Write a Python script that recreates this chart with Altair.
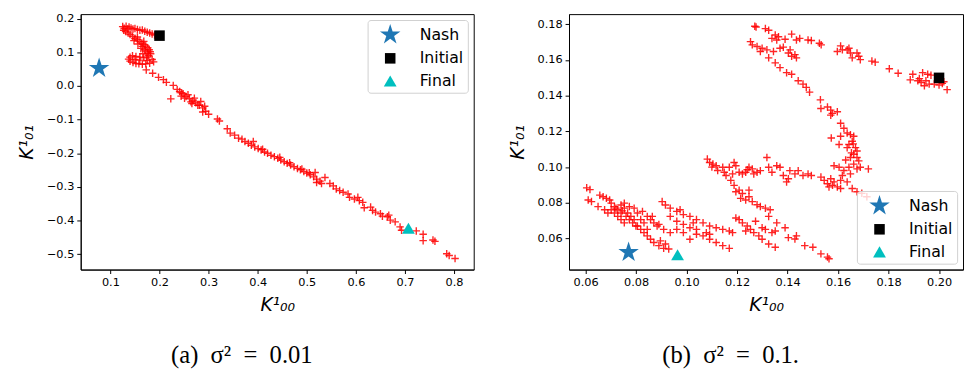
import altair as alt
import pandas as pd

# ---------------- data ----------------
labels = ["Nash", "Initial", "Final"]

# panel (a): sigma^2 = 0.01
traj_a = [
    (0.125, 0.177), (0.128, 0.172), (0.132, 0.178), (0.135, 0.170), (0.138, 0.176),
    (0.142, 0.173), (0.146, 0.170), (0.150, 0.171), (0.155, 0.168), (0.160, 0.166),
    (0.165, 0.167), (0.170, 0.163), (0.175, 0.160), (0.180, 0.158), (0.185, 0.155),
    (0.190, 0.152), (0.127, 0.166), (0.131, 0.162), (0.136, 0.158),
    (0.140, 0.153), (0.145, 0.148), (0.150, 0.142), (0.155, 0.138), (0.160, 0.133),
    (0.164, 0.128), (0.168, 0.124), (0.172, 0.119), (0.176, 0.114), (0.179, 0.108),
    (0.181, 0.102), (0.182, 0.096), (0.178, 0.090), (0.174, 0.086), (0.168, 0.084),
    (0.160, 0.086), (0.152, 0.088), (0.145, 0.090), (0.140, 0.086), (0.137, 0.080),
    (0.140, 0.074), (0.146, 0.070), (0.152, 0.067), (0.158, 0.066), (0.165, 0.065),
    (0.172, 0.066), (0.180, 0.068), (0.188, 0.072), (0.185, 0.079), (0.176, 0.098),
    (0.170, 0.108), (0.165, 0.118), (0.172, 0.104), (0.166, 0.096), (0.160, 0.077),
    (0.150, 0.079), (0.175, 0.076), (0.168, 0.133), (0.155, 0.146), (0.162, 0.112),
    (0.156, 0.125), (0.148, 0.135),
    (0.173, 0.048), (0.186, 0.038), (0.198, 0.026), (0.208, 0.019), (0.214, 0.011),
    (0.228, 0.002), (0.223, -0.038),
    (0.236, -0.010), (0.241, -0.016), (0.248, -0.023), (0.254, -0.031), (0.261, -0.038),
    (0.268, -0.044), (0.274, -0.050), (0.281, -0.057), (0.288, -0.065), (0.294, -0.075),
    (0.300, -0.084), (0.251, -0.036), (0.264, -0.047), (0.278, -0.057), (0.288, -0.077),
    (0.244, -0.030), (0.258, -0.026), (0.271, -0.036), (0.284, -0.046), (0.292, -0.060),
    (0.245, -0.020), (0.266, -0.052),
    (0.318, -0.098), (0.322, -0.104), (0.338, -0.127), (0.344, -0.140),
    (0.353, -0.146), (0.361, -0.155), (0.368, -0.158), (0.374, -0.165), (0.381, -0.170),
    (0.387, -0.176), (0.391, -0.165), (0.394, -0.181), (0.401, -0.186), (0.407, -0.190),
    (0.414, -0.196), (0.420, -0.200), (0.427, -0.206), (0.434, -0.210), (0.441, -0.215),
    (0.447, -0.220), (0.454, -0.225), (0.460, -0.230), (0.467, -0.235), (0.474, -0.240),
    (0.481, -0.245), (0.487, -0.249), (0.494, -0.254), (0.500, -0.259), (0.507, -0.264),
    (0.514, -0.270), (0.517, -0.257), (0.520, -0.277), (0.527, -0.283), (0.530, -0.290),
    (0.537, -0.272), (0.520, -0.287), (0.410, -0.188), (0.445, -0.212), (0.465, -0.228),
    (0.490, -0.247), (0.505, -0.258),
    (0.547, -0.290), (0.554, -0.297), (0.560, -0.306), (0.567, -0.311), (0.574, -0.316),
    (0.584, -0.321), (0.587, -0.331), (0.597, -0.336), (0.607, -0.341), (0.604, -0.331),
    (0.614, -0.346), (0.617, -0.362), (0.630, -0.360), (0.634, -0.370), (0.640, -0.375),
    (0.650, -0.380), (0.654, -0.387), (0.664, -0.389), (0.670, -0.399), (0.667, -0.384),
    (0.680, -0.404), (0.690, -0.419), (0.693, -0.429), (0.723, -0.431), (0.737, -0.441),
    (0.737, -0.460), (0.757, -0.458), (0.761, -0.462), (0.785, -0.499), (0.790, -0.504),
    (0.802, -0.513),
]
marker_a_x = [0.077, 0.200, 0.707]
marker_a_y = [0.053, 0.150, -0.423]

# panel (b): sigma^2 = 0.1
traj_b = [
    (0.1803, 0.1551), (0.1838, 0.1526), (0.1896, 0.1520), (0.1886, 0.1489), (0.1922, 0.1496),
    (0.1929, 0.1474), (0.1942, 0.1456), (0.1935, 0.1529), (0.1955, 0.1520), (0.1968, 0.1515),
    (0.1981, 0.1465), (0.2000, 0.1460), (0.2013, 0.1469), (0.2032, 0.1434), (0.2019, 0.1478),
    (0.1961, 0.1465), (0.1916, 0.1484), (0.1948, 0.1484),
    (0.1747, 0.1588), (0.1734, 0.1594),
    (0.1682, 0.1621), (0.1675, 0.1639), (0.1688, 0.1602), (0.1649, 0.1639), (0.1636, 0.1657),
    (0.1610, 0.1679), (0.1643, 0.1666), (0.1597, 0.1648), (0.1617, 0.1657), (0.1656, 0.1612),
    (0.1533, 0.1685), (0.1526, 0.1694), (0.1494, 0.1709), (0.1481, 0.1712), (0.1448, 0.1721),
    (0.1435, 0.1712), (0.1416, 0.1745), (0.1390, 0.1716), (0.1364, 0.1730), (0.1351, 0.1740),
    (0.1325, 0.1767), (0.1312, 0.1776), (0.1338, 0.1721), (0.1357, 0.1712), (0.1270, 0.1789),
    (0.1275, 0.1785),
    (0.1253, 0.1703), (0.1260, 0.1685), (0.1279, 0.1676), (0.1299, 0.1666), (0.1318, 0.1657),
    (0.1344, 0.1648), (0.1370, 0.1666), (0.1383, 0.1672), (0.1292, 0.1648),
    (0.1403, 0.1639), (0.1416, 0.1621), (0.1429, 0.1630), (0.1410, 0.1657), (0.1435, 0.1612),
    (0.1325, 0.1612), (0.1351, 0.1584), (0.1370, 0.1557), (0.1396, 0.1529), (0.1416, 0.1520),
    (0.1442, 0.1484), (0.1461, 0.1465), (0.1474, 0.1447), (0.1487, 0.1420), (0.1530, 0.1377),
    (0.1532, 0.1328), (0.1558, 0.1337), (0.1571, 0.1319), (0.1577, 0.1301), (0.1597, 0.1310),
    (0.1571, 0.1291),
    (0.1610, 0.1246), (0.1623, 0.1218), (0.1636, 0.1191), (0.1649, 0.1182), (0.1662, 0.1173),
    (0.1656, 0.1145), (0.1643, 0.1127), (0.1669, 0.1109), (0.1675, 0.1090), (0.1662, 0.1072),
    (0.1649, 0.1054), (0.1675, 0.1054), (0.1682, 0.1035), (0.1662, 0.1017), (0.1643, 0.0999),
    (0.1675, 0.0990), (0.1688, 0.0999), (0.1720, 0.0990), (0.1573, 0.1163), (0.1610, 0.1173),
    (0.1604, 0.1127), (0.1636, 0.1109), (0.1584, 0.1008), (0.1604, 0.0999), (0.1623, 0.0981),
    (0.1649, 0.0962), (0.1617, 0.0953), (0.1610, 0.0926), (0.1584, 0.0917), (0.1597, 0.0889),
    (0.1578, 0.0898), (0.1610, 0.0880), (0.1636, 0.0917), (0.1656, 0.0880), (0.1675, 0.0862),
    (0.1694, 0.0853), (0.1714, 0.0834), (0.1653, 0.1080), (0.1630, 0.1040), (0.1660, 0.1130),
    (0.1532, 0.0944), (0.1545, 0.0926), (0.1558, 0.0907), (0.1571, 0.0935), (0.1564, 0.0889),
    (0.1082, 0.1045), (0.1091, 0.1026), (0.1104, 0.1017), (0.1117, 0.1008), (0.1143, 0.0999),
    (0.1149, 0.0971), (0.1169, 0.0999), (0.1188, 0.1026), (0.1195, 0.1008), (0.1208, 0.0971),
    (0.1221, 0.0962), (0.1234, 0.0971), (0.1247, 0.0999), (0.1260, 0.0990), (0.1279, 0.0971),
    (0.1292, 0.0980), (0.1318, 0.1054), (0.1325, 0.0999), (0.1338, 0.0971), (0.1357, 0.1008),
    (0.1370, 0.0999), (0.1383, 0.0953), (0.1396, 0.0917), (0.1409, 0.0980), (0.1429, 0.0962),
    (0.1442, 0.0980), (0.1461, 0.0953), (0.1481, 0.0962), (0.1494, 0.0953), (0.1123, 0.0981),
    (0.1182, 0.0962), (0.1266, 0.0962), (0.1403, 0.0935), (0.1100, 0.1000), (0.1240, 0.0985),
    (0.1156, 0.0953), (0.1175, 0.0926), (0.1188, 0.0898), (0.1195, 0.0862), (0.1208, 0.0871),
    (0.1221, 0.0852), (0.1214, 0.0825), (0.1234, 0.0816), (0.1247, 0.0834), (0.1260, 0.0807),
    (0.1279, 0.0789), (0.1292, 0.0779), (0.1312, 0.0770), (0.1331, 0.0761), (0.1247, 0.0871),
    (0.1325, 0.0724), (0.1357, 0.0688), (0.1390, 0.0660), (0.1403, 0.0605), (0.1435, 0.0615),
    (0.1468, 0.0560), (0.1500, 0.0551), (0.1532, 0.0514), (0.1558, 0.0496), (0.1564, 0.0487),
    (0.1429, 0.0597),
    (0.0604, 0.0884), (0.0617, 0.0874), (0.0610, 0.0816), (0.0623, 0.0807), (0.0656, 0.0843),
    (0.0669, 0.0834), (0.0682, 0.0825), (0.0695, 0.0816), (0.0649, 0.0779), (0.0675, 0.0761),
    (0.0688, 0.0743), (0.0701, 0.0798), (0.0714, 0.0779), (0.0727, 0.0761), (0.0740, 0.0743),
    (0.0753, 0.0798), (0.0760, 0.0724), (0.0773, 0.0706), (0.0786, 0.0688), (0.0799, 0.0670),
    (0.0818, 0.0651), (0.0831, 0.0633), (0.0844, 0.0615), (0.0857, 0.0596), (0.0870, 0.0578),
    (0.0890, 0.0560), (0.0909, 0.0545), (0.0929, 0.0541), (0.0896, 0.0587), (0.0916, 0.0569),
    (0.0701, 0.0761), (0.0714, 0.0743), (0.0727, 0.0724), (0.0740, 0.0706), (0.0753, 0.0688),
    (0.0766, 0.0743), (0.0779, 0.0724), (0.0792, 0.0706), (0.0805, 0.0743), (0.0818, 0.0706),
    (0.0831, 0.0688), (0.0844, 0.0724), (0.0857, 0.0706), (0.0870, 0.0688), (0.0883, 0.0670),
    (0.0825, 0.0752), (0.0864, 0.0724), (0.0805, 0.0670), (0.0844, 0.0651), (0.0753, 0.0770),
    (0.0740, 0.0788), (0.0773, 0.0779), (0.0792, 0.0770), (0.0720, 0.0770), (0.0745, 0.0755),
    (0.0890, 0.0679), (0.0909, 0.0651), (0.0935, 0.0633), (0.0961, 0.0651), (0.0987, 0.0633),
    (0.1013, 0.0596), (0.1039, 0.0624), (0.1065, 0.0615), (0.1091, 0.0596), (0.1117, 0.0578),
    (0.1143, 0.0560), (0.1169, 0.0545),
    (0.0903, 0.0807), (0.0916, 0.0788), (0.0935, 0.0770), (0.0961, 0.0752), (0.0987, 0.0734),
    (0.1013, 0.0724), (0.1039, 0.0706), (0.1065, 0.0688), (0.1091, 0.0670), (0.1117, 0.0660),
    (0.1143, 0.0651), (0.1169, 0.0642), (0.0935, 0.0724), (0.0961, 0.0697), (0.0987, 0.0679),
    (0.1013, 0.0660), (0.1039, 0.0651), (0.0974, 0.0761), (0.1026, 0.0688), (0.1078, 0.0633),
    (0.1091, 0.0624),
    (0.1195, 0.0715), (0.1208, 0.0706), (0.1221, 0.0688), (0.1240, 0.0670), (0.1253, 0.0651),
    (0.1266, 0.0633), (0.1286, 0.0615), (0.1299, 0.0596), (0.1312, 0.0651), (0.1338, 0.0633),
    (0.1351, 0.0642), (0.1325, 0.0569), (0.1351, 0.0551), (0.1234, 0.0642), (0.1182, 0.0633),
    (0.1273, 0.0697), (0.1299, 0.0660),
]
marker_b_x = [0.077, 0.200, 0.0964]
marker_b_y = [0.0523, 0.150, 0.0509]

marker_colors = ["#1f77b4", "#000000", "#00bfbf"]
STAR = ("M0,-1L0.2245,-0.309L0.9511,-0.309L0.3633,0.118L0.5878,0.809L0,0.382"
        "L-0.5878,0.809L-0.3633,0.118L-0.9511,-0.309L-0.2245,-0.309Z")
marker_shapes = [STAR, "square", "triangle-up"]
marker_sizes = [480, 115, 170]

PLUS = "M-1,0L1,0M0,-1L0,1"
FONT = "DejaVu Sans"


def panel(traj, mx, my, xdom, ydom, xticks, yticks, fmt, legend_orient, caption, width):
    df = pd.DataFrame(traj, columns=["x", "y"])
    mdf = pd.DataFrame({"x": mx, "y": my, "label": labels})

    axis_common = dict(
        labelFont=FONT, labelFontSize=11.5, labelColor="black", labelOverlap=False,
        tickColor="black", domainColor="black", tickSize=4, labelPadding=3,
        grid=False, titleFont=FONT, titleFontSize=19, titleFontWeight="normal",
        titleFontStyle="italic", titleColor="black", format=fmt,
    )
    xaxis = alt.Axis(values=xticks, tickCount=len(xticks), title="K¹₀₀", titlePadding=8,
                     **axis_common)
    yaxis = alt.Axis(values=yticks, tickCount=len(yticks), title="K¹₀₁", titlePadding=10,
                     **axis_common)

    pts = alt.Chart(df).mark_point(
        shape=PLUS, filled=False, color="red", strokeWidth=1.4, size=58, opacity=0.85
    ).encode(
        x=alt.X("x:Q", scale=alt.Scale(domain=xdom, nice=False, zero=False), axis=xaxis),
        y=alt.Y("y:Q", scale=alt.Scale(domain=ydom, nice=False, zero=False), axis=yaxis),
    )

    leg = alt.Legend(
        title=None, orient=legend_orient, offset=6, padding=4,
        labelFont=FONT, labelFontSize=16, labelColor="black",
        labelOffset=19, symbolOffset=8, rowPadding=7,
        strokeColor="#d0d0d0", fillColor="rgba(255,255,255,0.8)", cornerRadius=3,
        symbolStrokeWidth=0,
    )
    mk = alt.Chart(mdf).mark_point(filled=True, opacity=1, strokeWidth=0).encode(
        x="x:Q",
        y="y:Q",
        color=alt.Color("label:N", scale=alt.Scale(domain=labels, range=marker_colors), legend=leg),
        shape=alt.Shape("label:N", scale=alt.Scale(domain=labels, range=marker_shapes), legend=leg),
        size=alt.Size("label:N", scale=alt.Scale(type="ordinal", domain=labels, range=marker_sizes),
                      legend=leg),
    )
    return alt.layer(pts, mk).properties(
        width=width, height=260,
        title=alt.TitleParams(
            text=caption, orient="bottom", font="Liberation Serif", fontSize=25,
            fontWeight="normal", color="black", offset=30, dx=-36,
        ),
    )


pa = panel(traj_a, marker_a_x, marker_a_y, [0.0395, 0.84], [-0.546, 0.214],
           [0.1, 0.2, 0.3, 0.4, 0.5, 0.6, 0.7, 0.8],
           [-0.5, -0.4, -0.3, -0.2, -0.1, 0.0, 0.1, 0.2], ".1f", "top-right",
           "(a)\u2002σ²\u2002=\u20020.01", 400)
pb = panel(traj_b, marker_b_x, marker_b_y, [0.0534, 0.2095], [0.0426, 0.1857],
           [0.06, 0.08, 0.10, 0.12, 0.14, 0.16, 0.18, 0.20],
           [0.06, 0.08, 0.10, 0.12, 0.14, 0.16, 0.18], ".2f", "bottom-right",
           "(b)\u2002σ²\u2002=\u20020.1.", 401)

chart = alt.hconcat(pa, pb, spacing=33).resolve_scale(
    color="independent", shape="independent", size="independent"
).resolve_legend(
    color="independent", shape="independent", size="independent"
).properties(
    padding={"left": 9, "top": 1, "right": 0, "bottom": 0}
).configure_view(stroke="black", strokeWidth=1)

chart.save("out.html", embed_options={"renderer": "svg", "actions": False})
